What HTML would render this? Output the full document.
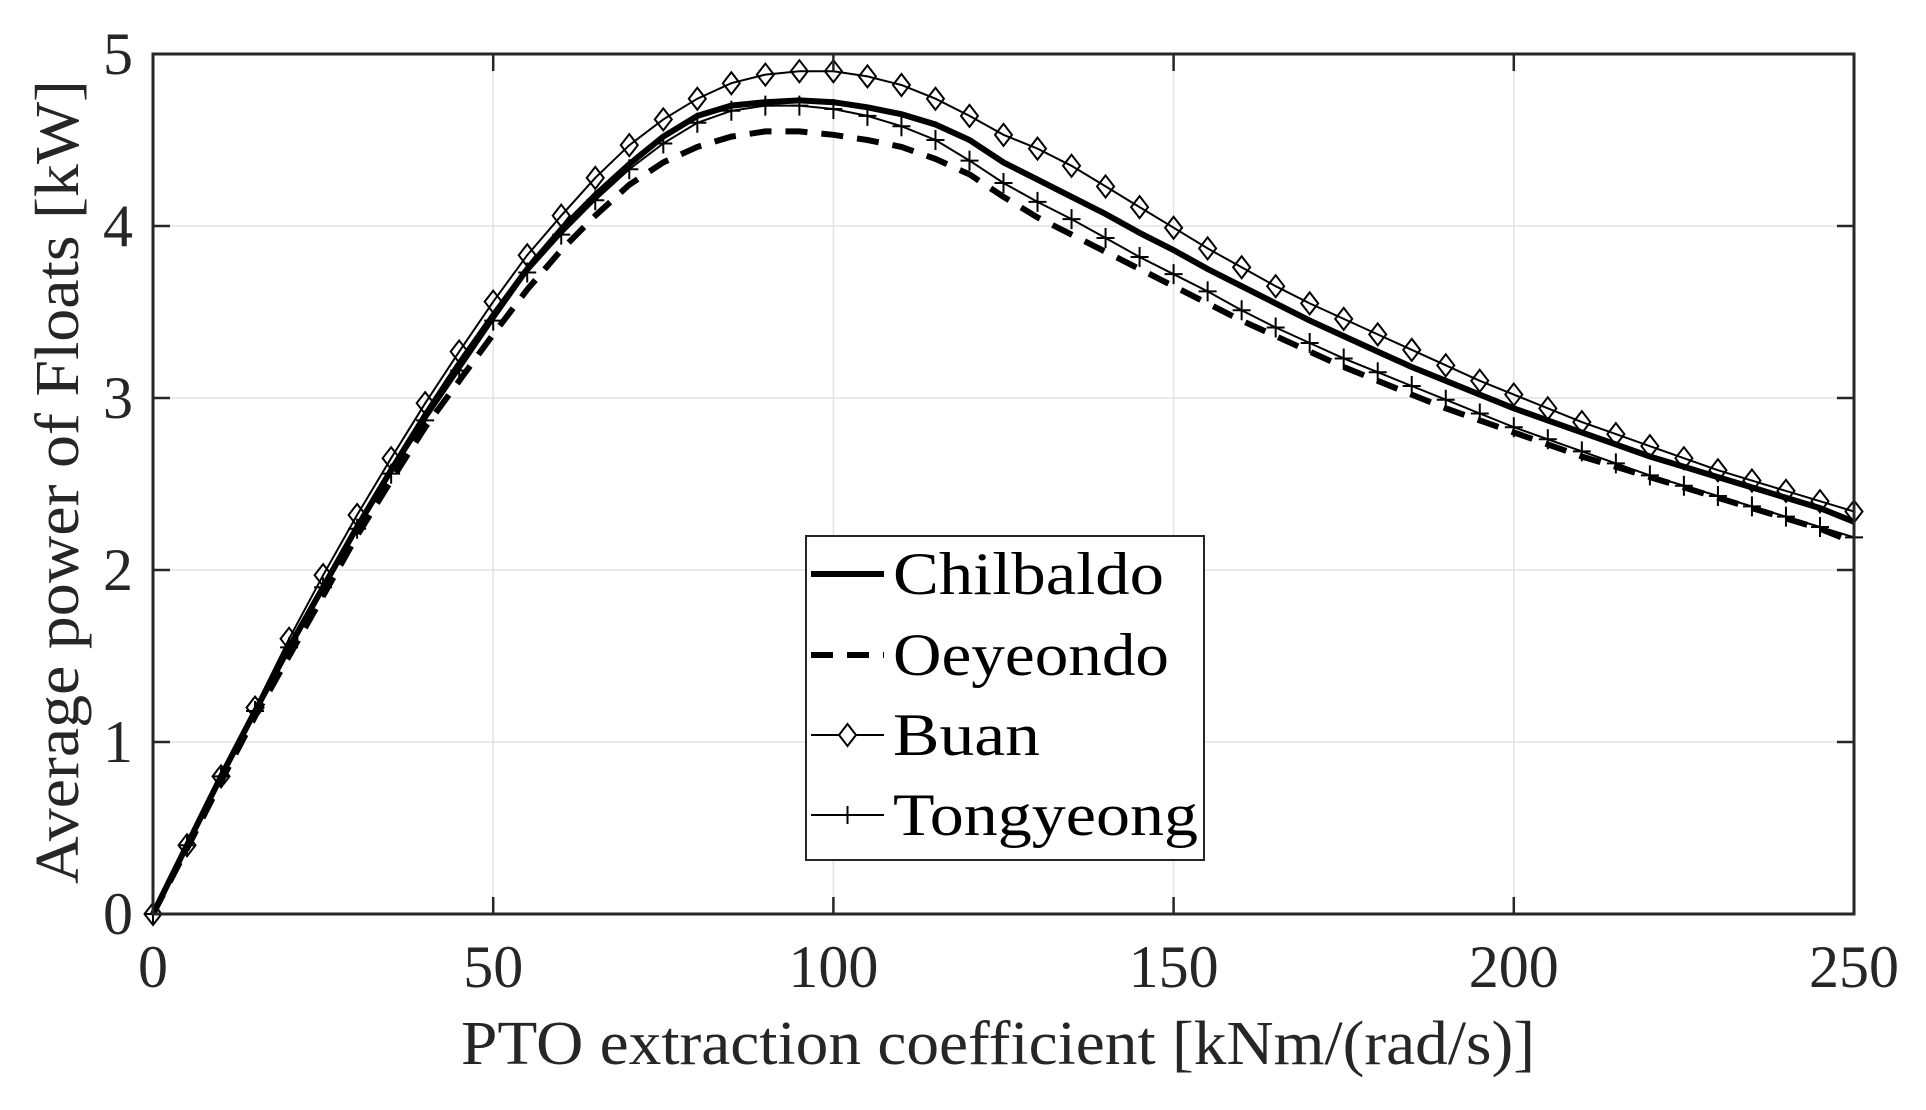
<!DOCTYPE html>
<html><head><meta charset="utf-8"><style>
html,body{margin:0;padding:0;background:#fff;}
svg{display:block;font-family:"Liberation Serif",serif;}
</style></head><body>
<svg id="s" width="1926" height="1110" xmlns="http://www.w3.org/2000/svg">
<rect width="1926" height="1110" fill="#fff"/>
<g id="grid" stroke="#e3e3e3" stroke-width="1.5"></g>
<g id="series"></g>
<rect x="153" y="54" width="1701" height="860" fill="none" stroke="#262626" stroke-width="3"/>
<g id="ticks" stroke="#262626" stroke-width="2.5"></g>
<g id="labels" fill="#262626" font-size="60"></g>
<text x="461" y="1064" font-size="62" fill="#262626" textLength="1074" lengthAdjust="spacingAndGlyphs">PTO extraction coefficient [kNm/(rad/s)]</text>
<text transform="translate(78,884) rotate(-90)" font-size="62" fill="#262626" textLength="804" lengthAdjust="spacingAndGlyphs">Average power of Floats [kW]</text>
<g id="legend">
<rect x="806" y="536" width="398" height="324" fill="#fff" stroke="#262626" stroke-width="2"/>
<line x1="811" y1="574" x2="884" y2="574" stroke="#000" stroke-width="6"/>
<line x1="811" y1="655" x2="884" y2="655" stroke="#000" stroke-width="6" stroke-dasharray="22,14"/>
<line x1="811" y1="735" x2="884" y2="735" stroke="#000" stroke-width="2"/>
<path d="M847.5 724 L856 735 L847.5 746 L839 735 Z" fill="#fff" stroke="#000" stroke-width="2"/>
<line x1="811" y1="815" x2="884" y2="815" stroke="#000" stroke-width="2"/>
<path d="M839 815 H856 M847.5 806 V824" stroke="#000" stroke-width="2"/>
<g font-size="60" fill="#000" lengthAdjust="spacingAndGlyphs">
<text x="893" y="594" textLength="271" lengthAdjust="spacingAndGlyphs">Chilbaldo</text>
<text x="893" y="675" textLength="276" lengthAdjust="spacingAndGlyphs">Oeyeondo</text>
<text x="893" y="755" textLength="147" lengthAdjust="spacingAndGlyphs">Buan</text>
<text x="893" y="835" textLength="305" lengthAdjust="spacingAndGlyphs">Tongyeong</text>
</g>
</g>
</svg>
<script>
var X=function(v){return 153+v*1701/250},Y=function(v){return 914-v*172};
var ns="http://www.w3.org/2000/svg";
function el(p,t,a,txt){var e=document.createElementNS(ns,t);for(var k in a)e.setAttribute(k,a[k]);if(txt!=null)e.textContent=txt;document.getElementById(p).appendChild(e);return e;}
for(var i=1;i<5;i++){el("grid","line",{x1:X(i*50),x2:X(i*50),y1:54,y2:914});}
for(var i=1;i<5;i++){el("grid","line",{x1:153,x2:1854,y1:Y(i),y2:Y(i)});}
for(var i=0;i<=5;i++){var x=X(i*50);el("ticks","line",{x1:x,x2:x,y1:914,y2:897});el("ticks","line",{x1:x,x2:x,y1:54,y2:71});
el("labels","text",{x:x,y:987,"text-anchor":"middle"},String(i*50));}
for(var i=0;i<=5;i++){var y=Y(i);el("ticks","line",{x1:153,x2:170,y1:y,y2:y});el("ticks","line",{x1:1854,x2:1837,y1:y,y2:y});
el("labels","text",{x:133,y:y+20,"text-anchor":"end"},String(i));}
var B=[0,0.4,0.8,1.2,1.6,1.97,2.32,2.65,2.97,3.27,3.56,3.83,4.06,4.28,4.47,4.62,4.74,4.83,4.88,4.9,4.9,4.87,4.82,4.74,4.64,4.53,4.45,4.35,4.23,4.11,3.99,3.87,3.76,3.65,3.55,3.46,3.37,3.28,3.19,3.1,3.02,2.94,2.86,2.79,2.72,2.65,2.58,2.52,2.46,2.4,2.34];
var T=[0,0.4,0.8,1.18,1.55,1.9,2.24,2.56,2.87,3.16,3.45,3.73,3.95,4.15,4.33,4.48,4.6,4.67,4.7,4.7,4.68,4.64,4.58,4.5,4.38,4.25,4.14,4.04,3.93,3.82,3.72,3.62,3.51,3.41,3.32,3.23,3.15,3.07,2.99,2.91,2.83,2.76,2.69,2.62,2.55,2.49,2.43,2.37,2.31,2.25,2.19];
var C=[0,0.4,0.8,1.18,1.55,1.9,2.25,2.58,2.9,3.2,3.48,3.75,3.98,4.18,4.36,4.52,4.64,4.7,4.72,4.73,4.72,4.69,4.65,4.59,4.5,4.37,4.27,4.17,4.07,3.96,3.86,3.75,3.65,3.55,3.45,3.36,3.27,3.18,3.1,3.02,2.94,2.87,2.8,2.73,2.66,2.6,2.54,2.48,2.42,2.36,2.28];
var O=[0,0.38,0.77,1.15,1.5,1.85,2.2,2.52,2.83,3.1,3.37,3.63,3.86,4.06,4.24,4.37,4.46,4.52,4.55,4.55,4.53,4.5,4.46,4.39,4.3,4.17,4.05,3.95,3.85,3.75,3.65,3.55,3.45,3.36,3.27,3.18,3.1,3.02,2.94,2.87,2.8,2.73,2.66,2.6,2.54,2.48,2.42,2.36,2.3,2.24,2.16];
function path(d){return d.map(function(v,i){return (i?"L":"M")+X(i*5).toFixed(1)+" "+Y(v).toFixed(1);}).join(" ");}
el("series","path",{d:path(O),fill:"none",stroke:"#000","stroke-width":6,"stroke-dasharray":"22,14"});
el("series","path",{d:path(T),fill:"none",stroke:"#000","stroke-width":2});
T.forEach(function(v,i){var x=X(i*5),y=Y(v);el("series","path",{d:"M"+(x-9)+" "+y+"H"+(x+9)+"M"+x+" "+(y-10)+"V"+(y+10),stroke:"#000","stroke-width":2});});
el("series","path",{d:path(B),fill:"none",stroke:"#000","stroke-width":2});
B.forEach(function(v,i){var x=X(i*5),y=Y(v);el("series","path",{d:"M"+x+" "+(y-11)+"L"+(x+8.5)+" "+y+"L"+x+" "+(y+11)+"L"+(x-8.5)+" "+y+"Z",fill:"none",stroke:"#000","stroke-width":2});});
el("series","path",{d:path(C),fill:"none",stroke:"#000","stroke-width":6});
</script>
</body></html>
